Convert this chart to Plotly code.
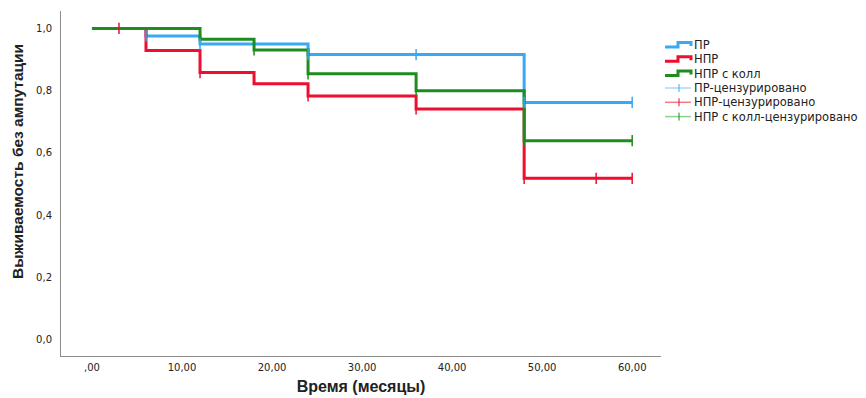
import plotly.graph_objects as go

# Step data (time in months, survival)
pr_t = [0, 6, 12, 24, 48, 60]
pr_s = [1.0, 0.976, 0.950, 0.916, 0.762, 0.762]
npr_t = [0, 6, 12, 18, 24, 36, 48, 60]
npr_s = [1.0, 0.929, 0.858, 0.822, 0.783, 0.741, 0.518, 0.518]
nprk_t = [0, 12, 18, 24, 36, 48, 60]
nprk_s = [1.0, 0.965, 0.931, 0.854, 0.800, 0.639, 0.639]

# Censored observations
pr_ct = [6, 12, 24, 36, 48, 60]
pr_cs = [0.976, 0.950, 0.916, 0.916, 0.762, 0.762]
npr_ct = [3, 12, 24, 36, 48, 56, 60]
npr_cs = [1.0, 0.858, 0.783, 0.741, 0.518, 0.518, 0.518]
nprk_ct = [18, 24, 36, 48, 60]
nprk_cs = [0.931, 0.854, 0.800, 0.639, 0.639]

x_ticks = [0, 10, 20, 30, 40, 50, 60]
x_labels = [",00", "10,00", "20,00", "30,00", "40,00", "50,00", "60,00"]
y_ticks = [0, 0.2, 0.4, 0.6, 0.8, 1.0]
y_labels = ["0,0", "0,2", "0,4", "0,6", "0,8", "1,0"]

names = ["ПР", "НПР", "НПР с колл"]
cens_names = [n + "-цензурировано" for n in names]
colors = ["#3AA8F2", "#EE0F30", "#1E8C1E"]
light = ["#A9D8F8", "#F47A8C", "#8FD18F"]

# The page body has an 8px margin, so the figure is sized to fit the window
W, H = 858, 390
ML, MR, MT, MB = 53, 205, 3, 42
PW, PH = W - ML - MR, H - MT - MB
OFF = 8


def px(x):  # page pixel -> paper x
    return (x - OFF - ML) / PW


def py(y):  # page pixel -> paper y
    return (OFF + H - MB - y) / PH


fig = go.Figure()
steps = [(pr_t, pr_s), (npr_t, npr_s), (nprk_t, nprk_s)]
cens = [(pr_ct, pr_cs), (npr_ct, npr_cs), (nprk_ct, nprk_cs)]
for (t, s), n, c in zip(steps, names, colors):
    fig.add_trace(go.Scatter(x=t, y=s, mode="lines", name=n, showlegend=False,
                             line=dict(color=c, width=3, shape="hv")))
for (t, s), n, c in zip(cens, cens_names, colors):
    fig.add_trace(go.Scatter(x=t, y=s, mode="markers", name=n, showlegend=False,
                             marker=dict(symbol="line-ns", size=8, color=c,
                                         line=dict(color=c, width=1.5))))

# Manual legend (SPSS style)
shapes = []
annotations = []
leg_y = [45, 59.3, 73.6, 88, 102.3, 116.6]
labels = names + cens_names
for i, lab in enumerate(labels):
    yc = leg_y[i]
    if i < 3:
        c = colors[i]
        path = "M {} {} L {} {} L {} {} L {} {} L {} {}".format(
            px(665), py(yc + 2), px(678), py(yc + 2), px(678), py(yc - 2.5),
            px(691), py(yc - 2.5), px(691), py(yc + 1))
        shapes.append(dict(type="path", xref="paper", yref="paper", path=path,
                           line=dict(color=c, width=3)))
    else:
        c = colors[i - 3]
        lc = light[i - 3]
        shapes.append(dict(type="line", xref="paper", yref="paper",
                           x0=px(665), x1=px(691), y0=py(yc), y1=py(yc),
                           line=dict(color=lc, width=1.5)))
        shapes.append(dict(type="line", xref="paper", yref="paper",
                           x0=px(679), x1=px(679), y0=py(yc - 4), y1=py(yc + 4),
                           line=dict(color=c, width=1)))
    annotations.append(dict(text=lab, xref="paper", yref="paper", x=px(692), y=py(yc),
                            xanchor="left", yanchor="middle", showarrow=False,
                            font=dict(family="DejaVu Sans", size=11.5, color="#222")))

# Y-axis title (positioned like the SPSS original, above the plot centre)
annotations.append(dict(text="<b>Выживаемость без ампутации</b>", xref="paper", yref="paper",
                        x=px(17), y=py(162), xanchor="center", yanchor="middle",
                        textangle=-90, showarrow=False,
                        font=dict(family="Liberation Sans, Arial", size=15.5, color="#222")))

fig.update_layout(
    width=W, height=H,
    margin=dict(l=ML, r=MR, t=MT, b=MB),
    plot_bgcolor="white", paper_bgcolor="white",
    font=dict(family="DejaVu Sans, Arial, sans-serif", size=10, color="#222"),
    showlegend=False,
    shapes=shapes,
    annotations=annotations,
    xaxis=dict(range=[-3.44, 63.2], tickvals=x_ticks, ticktext=x_labels,
               showgrid=False, zeroline=False, showline=True, linecolor="#8c8c8c",
               linewidth=1, ticks="", automargin=False, ticklabelstandoff=2,
               title=dict(text="<b>Время (месяцы)</b>",
                          font=dict(family="Liberation Sans, Arial", size=16, color="#222"),
                          standoff=8)),
    yaxis=dict(range=[-0.053, 1.056], tickvals=y_ticks, ticktext=y_labels,
               showgrid=False, zeroline=False, showline=True, linecolor="#8c8c8c",
               linewidth=1, ticks="", automargin=False, ticklabelstandoff=6),
)

fig.write_html("out.html")
